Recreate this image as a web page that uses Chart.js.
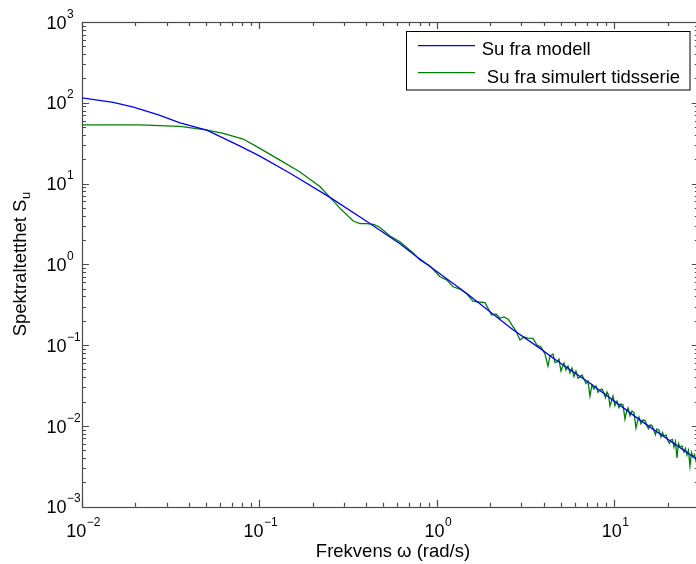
<!DOCTYPE html>
<html>
<head>
<meta charset="utf-8">
<script src="https://cdn.jsdelivr.net/npm/chart.js@4.4.0/dist/chart.umd.min.js"></script>
<style>
  html, body { margin: 0; padding: 0; background: #fff; overflow: hidden; }
  #wrap { width: 696px; height: 564px; overflow: hidden; }
  canvas { display: block; }
</style>
</head>
<body>
<div id="wrap"><canvas id="spekter" width="702" height="564"></canvas></div>
<script>
// Spekter fra modell
const modellX = [0.01, 0.015, 0.0195, 0.027, 0.0357, 0.0505, 0.0778, 0.1, 0.149, 0.25, 0.42, 0.62, 0.804, 0.916, 1.47, 2.7, 3.82, 4.54, 7.31, 14, 27.9, 30.06];
const modellY = [115, 101, 88.5, 71, 56.5, 45.9, 29.1, 22, 13.4, 6.75, 3.2, 1.8, 1.16, 0.94, 0.438, 0.154, 0.0912, 0.0687, 0.0337, 0.0118, 0.00416, 0.0037];

// Spekter fra simulert tidsserie
const simX = [0.01, 0.021, 0.0357, 0.05, 0.0626, 0.081, 0.1, 0.1306, 0.1694, 0.22,
  0.25, 0.285, 0.338, 0.369, 0.403, 0.44, 0.475, 0.522, 0.545, 0.62,
  0.738, 0.804, 0.916, 1.043, 1.142, 1.234, 1.351, 1.48, 1.6, 1.729,
  1.869, 2.039, 2.157, 2.271, 2.392, 2.53, 2.654, 2.796, 2.944, 3.101,
  3.267, 3.485, 3.671, 3.867, 4.073, 4.235, 4.346,
  4.519, 4.638, 4.76, 4.884, 5.013, 5.212, 5.35, 5.49, 5.635, 5.782,
  5.934, 6.09, 6.252, 6.414, 6.584, 6.756, 6.935, 7.115, 7.303, 7.496,
  7.693, 7.894, 8.104, 8.318, 8.535, 8.76, 8.93, 9.108, 9.288, 9.469,
  9.656, 9.845, 10.1, 10.37, 10.64, 10.92, 11.21, 11.5, 11.73, 11.96,
  12.28, 12.6, 12.93, 13.27, 13.53, 13.8, 14.16, 14.54, 14.92, 15.31,
  15.61, 15.92, 16.34, 16.77, 17.09, 17.43, 17.89, 18.36, 18.72, 19.09,
  19.59, 20.11, 20.5, 20.9, 21.32, 21.74, 22.16, 22.59, 23.04, 23.49,
  24.11, 24.75, 25.23, 25.73, 26.23, 26.75, 27.28, 27.81, 28.36, 28.91,
  29.49, 30.06];
const simY = [53.4, 53.4, 51, 46.3, 41.8, 35.6, 27.5, 19.5, 13.9, 9.12,
  6.75, 4.93, 3.44, 3.2, 3.2, 3.12, 2.9, 2.42, 2.24, 1.9,
  1.37, 1.13, 0.953, 0.702, 0.639, 0.528, 0.495, 0.429, 0.351, 0.342,
  0.335, 0.236, 0.243, 0.215, 0.223, 0.209, 0.177, 0.1494, 0.1156, 0.1259,
  0.1224, 0.1214, 0.1003, 0.0947, 0.0776, 0.0551, 0.0733,
  0.0776, 0.061, 0.0618, 0.0669, 0.0478, 0.06, 0.0492, 0.0551, 0.0455, 0.0521,
  0.041, 0.0478, 0.0389, 0.0403, 0.0428, 0.0381, 0.0334, 0.0359, 0.0234, 0.0321,
  0.0285, 0.0312, 0.0261, 0.0278, 0.0285, 0.0255, 0.0223, 0.0263, 0.0242, 0.01764,
  0.0203, 0.0234, 0.0178, 0.0203, 0.01686, 0.01866, 0.0184, 0.01217, 0.01483, 0.01666,
  0.01338, 0.01529, 0.01461, 0.00942, 0.01143, 0.01289, 0.01065, 0.01183, 0.0117, 0.00997,
  0.00921, 0.01026, 0.01017, 0.00865, 0.00778, 0.00915, 0.00887, 0.00729, 0.00828, 0.0075,
  0.00774, 0.0065, 0.00609, 0.00669, 0.00681, 0.00548, 0.00643, 0.00401, 0.00606, 0.00548,
  0.00566, 0.00475, 0.00528, 0.00436, 0.00497, 0.00319, 0.00469, 0.00412, 0.00443, 0.00368,
  0.00417, 0.00347];

// Akser (tierpotenser)
const xDekader = [-2, -1, 0, 1];
const yDekader = [-3, -2, -1, 0, 1, 2, 3];
const xMin = 0.01, xMax = 30;
const yMin = 0.001, yMax = 1000;

const legendTekster = ["Su fra modell", " Su fra simulert tidsserie"];
const xTittel = "Frekvens \u03c9 (rad/s)";
const yTittel = "Spektraltetthet S";
const yTittelIndeks = "u";

const FONT = "'Liberation Sans', Arial, Helvetica, sans-serif";
const AKSEFARGE = "#4a4a4a";

function punkter(xs, ys) {
  return xs.map((x, i) => ({ x: x, y: ys[i] }));
}

function eksponent(d) {
  return d < 0 ? "\u2212" + Math.abs(d) : String(d);
}

// Tegner "10" med hevet eksponent
function tierpotens(ctx, d, x, y, justering) {
  ctx.font = "18px " + FONT;
  const w10 = ctx.measureText("10").width;
  ctx.font = "12px " + FONT;
  const we = ctx.measureText(eksponent(d)).width;
  let start;
  if (justering === "senter") {
    start = x - (w10 + we) / 2;
  } else {
    start = x - w10;
  }
  ctx.textAlign = "left";
  ctx.font = "18px " + FONT;
  ctx.fillText("10", start, y);
  ctx.font = "12px " + FONT;
  ctx.fillText(eksponent(d), start + w10 + 0.5, y - 11);
}

const aksePlugin = {
  id: "akser",
  beforeDatasetsDraw(chart) {
    const { ctx, chartArea: a, scales } = chart;
    ctx.save();
    ctx.strokeStyle = AKSEFARGE;
    ctx.lineWidth = 1.2;
    ctx.beginPath();

    // Merker langs x-aksen (nede og oppe)
    xDekader.forEach((d) => {
      for (let m = 1; m <= 9; m++) {
        const v = m * Math.pow(10, d);
        if (v > xMax) break;
        const px = Math.round(scales.x.getPixelForValue(v)) + 0.5;
        const len = m === 1 ? 7 : 4;
        ctx.moveTo(px, a.bottom);
        ctx.lineTo(px, a.bottom - len);
        ctx.moveTo(px, a.top);
        ctx.lineTo(px, a.top + len);
      }
    });

    // Merker langs y-aksen (venstre og høyre)
    yDekader.forEach((d) => {
      for (let m = 1; m <= 9; m++) {
        const v = m * Math.pow(10, d);
        if (v > yMax) break;
        const py = Math.round(scales.y.getPixelForValue(v)) + 0.5;
        const len = m === 1 ? 7 : 4;
        ctx.moveTo(a.left, py);
        ctx.lineTo(a.left + len, py);
        ctx.moveTo(a.right, py);
        ctx.lineTo(a.right - len, py);
      }
    });
    ctx.stroke();

    ctx.strokeRect(Math.round(a.left) + 0.5, Math.round(a.top) + 0.5,
      Math.round(a.right - a.left), Math.round(a.bottom - a.top));
    ctx.restore();
  },
  afterDraw(chart) {
    const { ctx, chartArea: a, scales } = chart;
    ctx.save();
    ctx.fillStyle = "#000";
    ctx.textBaseline = "alphabetic";

    // Tall på aksene
    xDekader.forEach((d) => {
      const px = scales.x.getPixelForValue(Math.pow(10, d));
      tierpotens(ctx, d, px + 1, a.bottom + 30, "senter");
    });
    yDekader.forEach((d) => {
      const py = scales.y.getPixelForValue(Math.pow(10, d));
      tierpotens(ctx, d, 66.5, py + 6.6, "hoyre");
    });

    // Aksetitler
    ctx.font = "18.5px " + FONT;
    ctx.textAlign = "center";
    ctx.fillText(xTittel, 393, 557);

    ctx.save();
    ctx.translate(25.5, (a.top + a.bottom) / 2);
    ctx.rotate(-Math.PI / 2);
    ctx.font = "18.5px " + FONT;
    const wt = ctx.measureText(yTittel).width;
    ctx.font = "13px " + FONT;
    const wi = ctx.measureText(yTittelIndeks).width;
    const s = -(wt + wi) / 2;
    ctx.textAlign = "left";
    ctx.font = "18.5px " + FONT;
    ctx.fillText(yTittel, s, 0);
    ctx.font = "13px " + FONT;
    ctx.fillText(yTittelIndeks, s + wt + 0.5, 4);
    ctx.restore();

    // Forklaring
    const bx = 406.5, by = 31.5, bw = 283.5, bh = 58.5;
    ctx.fillStyle = "#fff";
    ctx.fillRect(bx, by, bw, bh);
    ctx.strokeStyle = "#000";
    ctx.lineWidth = 1;
    ctx.strokeRect(bx, by, bw, bh);
    const farger = ["#0000ff", "#008000"];
    const linjeY = [45.7, 72.7];
    const tekstY = [55, 83.3];
    ctx.lineWidth = 1.3;
    ctx.font = "18.5px " + FONT;
    ctx.textAlign = "left";
    legendTekster.forEach((t, i) => {
      ctx.strokeStyle = farger[i];
      ctx.beginPath();
      ctx.moveTo(418, linjeY[i]);
      ctx.lineTo(475, linjeY[i]);
      ctx.stroke();
      ctx.fillStyle = "#000";
      ctx.fillText(t, 481.7, tekstY[i]);
    });
    ctx.restore();
  },
};

const ctx = document.getElementById("spekter").getContext("2d");
new Chart(ctx, {
  type: "line",
  data: {
    datasets: [
      {
        label: legendTekster[0],
        data: punkter(modellX, modellY),
        borderColor: "#0000ff",
        borderWidth: 1.3,
        pointRadius: 0,
        tension: 0,
        fill: false,
      },
      {
        label: legendTekster[1],
        data: punkter(simX, simY),
        borderColor: "#008000",
        borderWidth: 1.3,
        pointRadius: 0,
        tension: 0,
        fill: false,
      },
    ],
  },
  options: {
    responsive: false,
    animation: false,
    devicePixelRatio: 1,
    layout: {
      padding: { left: 82, top: 22, right: 3.2, bottom: 57.3 },
    },
    plugins: {
      legend: { display: false },
      tooltip: { enabled: false },
    },
    scales: {
      x: { type: "logarithmic", min: xMin, max: xMax, display: false },
      y: { type: "logarithmic", min: yMin, max: yMax, display: false },
    },
  },
  plugins: [aksePlugin],
});
</script>
</body>
</html>
